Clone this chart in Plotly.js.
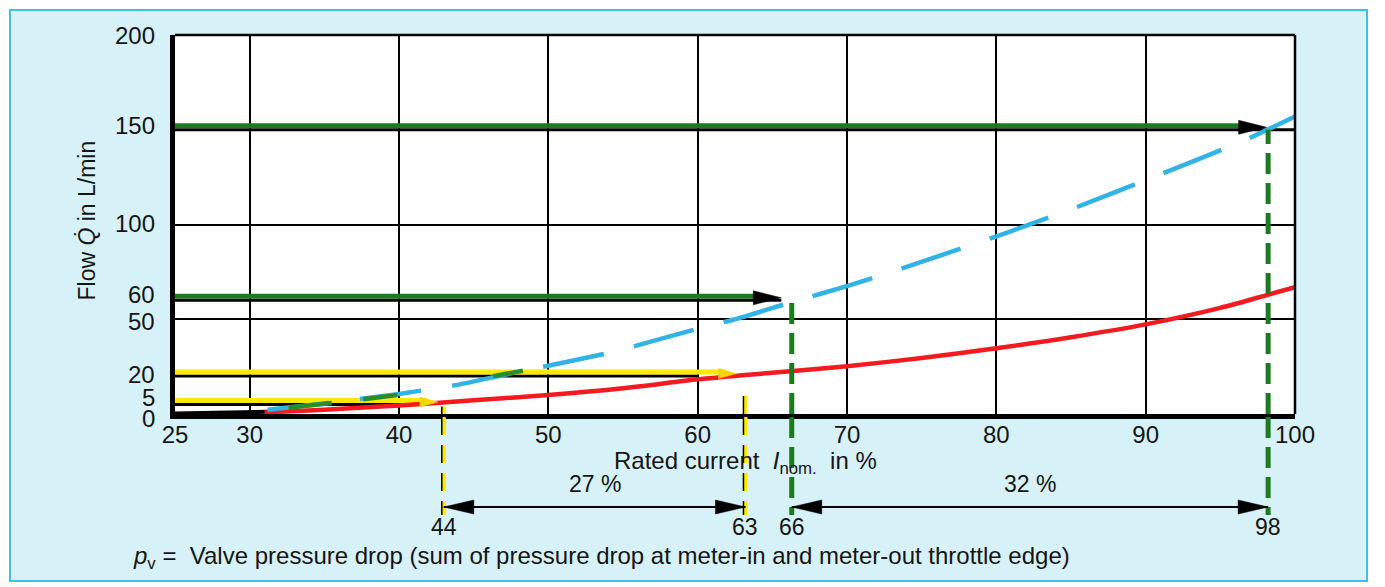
<!DOCTYPE html>
<html><head><meta charset="utf-8">
<script src="https://cdn.plot.ly/plotly-3.0.1.min.js"></script>
<style>html,body{margin:0;padding:0;background:#fff}</style>
</head><body><div id="chart" style="width:1385px;height:587px"></div>
<script>
// ---------- data ----------
const xTicks = [25, 30, 40, 50, 60, 70, 80, 90, 100];
const yTickLabels = [0, 5, 20, 50, 60, 100, 150, 200];
const yGrid = [50, 100, 150];

// red curve (solid)
const redX = [31, 35, 40, 45, 50, 55, 60, 63, 66, 70, 75, 80, 85, 90, 95, 98, 100];
const redY = [0.8, 2.3, 4.5, 7.2, 10, 13.6, 18.3, 20.5, 22.4, 25.2, 29.6, 34.7, 40.5, 47.3, 56, 62.5, 67];
// black start of the curve on the axis
const tailX = [25, 28.5, 32];
const tailY = [0.2, 0.6, 1.3];

// light blue dashed curve
const blueX = [31.2, 35, 40, 44, 47, 50, 54.5, 56.5, 60.5, 62.5, 66.5, 70, 73, 79, 81, 85, 90.5, 96.5, 100];
const blueY = [2.2, 5.6, 10.6, 15.5, 20.6, 25.5, 33, 37.4, 46, 50, 59.5, 67.5, 75, 91, 96.5, 108, 125, 144, 157];
// short green pieces laid over the blue dashes
const greenSegX = [32.6, 35.5, null, 37.6, 39.9, null, 46.3, 48.3];
const greenSegY = [3.3, 5.8, null, 7.8, 10.0, null, 20.0, 22.8];

// flow levels with horizontal arrows
const flowLevels = [5, 20, 60, 150];
const arrowTipX = [42.6, 62.6, 65.6, 98.1];
const blackEndX = [41.2, 60, 65.6, 100];
// vertical markers at the bottom
const markerX = [43.0, 63.2, 66.3, 98.2];
const markerLabels = ['44', '63', '66', '98'];
const dropStartY = [4, 14, 60, 150];
// spans between markers
const spanFrom = [0, 2];
const spanTo = [1, 3];
const spanLabels = ['27 %', '32 %'];

// ---------- styles ----------
const FONT = 'Liberation Sans, Arial, Helvetica, sans-serif';
const TXT = '#151515';
const YEL = '#ffe800', GRN = '#1c7a1f', BLUE = '#31b3e6', RED = '#f41a1f';
const levelColor = [YEL, YEL, GRN, GRN];
const headColor = ['#ffd400', '#ffd400', '#000', '#000'];
const headLen = [18, 18, 28, 28];
const headHalf = [5, 5, 7, 7];
const dropColor = [YEL, YEL, GRN, GRN];
const yLabelNudge = [-5, 6, 1, -3, 5, 0, 3, -1];

const shapes = [];
// outer frame with light cyan fill
shapes.push({type: 'rect', layer: 'below', xref: 'paper', yref: 'paper',
  xsizemode: 'pixel', ysizemode: 'pixel', xanchor: 0, yanchor: 0,
  x0: -165, x1: 1192, y0: -167, y1: 404,
  fillcolor: '#d7f1f9', line: {color: '#3dbfe8', width: 2}});
// white plot area
shapes.push({type: 'rect', layer: 'below', xref: 'paper', yref: 'paper',
  x0: 0, x1: 1, y0: 0, y1: 1, fillcolor: '#ffffff', line: {width: 0}});
// top and right border
shapes.push({type: 'line', xref: 'paper', yref: 'paper', x0: 0, x1: 1, y0: 1, y1: 1, line: {color: '#000', width: 2.5}});
shapes.push({type: 'line', xref: 'paper', yref: 'paper', x0: 1, x1: 1, y0: 0, y1: 1, line: {color: '#000', width: 2.5}});

flowLevels.forEach((lv, i) => {
  shapes.push({type: 'line', layer: 'between', xref: 'x', yref: 'y',
    x0: 25, x1: blackEndX[i], y0: lv, y1: lv, line: {color: '#000', width: 3}});
  shapes.push({type: 'line', layer: 'between', xref: 'x', yref: 'y',
    xsizemode: 'pixel', xanchor: arrowTipX[i], x0: -3000, x1: -headLen[i] * 0.6,
    ysizemode: 'pixel', yanchor: lv, y0: 4, y1: 4,
    line: {color: levelColor[i], width: 5}});
  const c = 2.5, L = headLen[i], h = headHalf[i];
  shapes.push({type: 'path', layer: 'above', xref: 'x', yref: 'y',
    xsizemode: 'pixel', ysizemode: 'pixel', xanchor: arrowTipX[i], yanchor: lv,
    path: `M0,${c} L${-L},${c + h} L${-L},${c - h} Z`,
    fillcolor: headColor[i], line: {color: headColor[i], width: 0.5}});
});

markerX.forEach((mx, i) => {
  const dash = i < 2 ? '18px,10px' : '21px,9px';
  const w = i < 2 ? 4 : 5;
  shapes.push({type: 'line', layer: 'above', xref: 'x', yref: 'y',
    x0: mx, x1: mx, y0: 0, y1: dropStartY[i], line: {color: dropColor[i], width: w, dash: dash}});
  shapes.push({type: 'line', layer: 'above', xref: 'x', yref: 'paper',
    x0: mx, x1: mx, ysizemode: 'pixel', yanchor: 0, y0: -3, y1: -101,
    line: {color: dropColor[i], width: w, dash: dash}});
  if (i < 2) {
    shapes.push({type: 'line', layer: 'above', xref: 'x', yref: 'y',
      xsizemode: 'pixel', xanchor: mx, x0: -2, x1: -2,
      y0: 0, y1: dropStartY[i], line: {color: '#000', width: 1.5, dash: dash}});
    shapes.push({type: 'line', layer: 'above', xref: 'x', yref: 'paper',
      xsizemode: 'pixel', xanchor: mx, x0: -2, x1: -2,
      ysizemode: 'pixel', yanchor: 0, y0: -3, y1: -101,
      line: {color: '#000', width: 1.5, dash: dash}});
  }
});

const annotations = [];
spanFrom.forEach((a, k) => {
  const b = spanTo[k];
  const xa = markerX[a], xb = markerX[b];
  shapes.push({type: 'line', layer: 'above', xref: 'x', yref: 'paper',
    x0: xa, x1: xb, ysizemode: 'pixel', yanchor: 0, y0: -93, y1: -93,
    line: {color: '#000', width: 2}});
  shapes.push({type: 'path', layer: 'above', xref: 'x', yref: 'paper',
    xsizemode: 'pixel', ysizemode: 'pixel', xanchor: xa, yanchor: 0,
    path: 'M0,-93 L30,-86 L30,-100 Z', fillcolor: '#000', line: {color: '#000', width: 0.5}});
  shapes.push({type: 'path', layer: 'above', xref: 'x', yref: 'paper',
    xsizemode: 'pixel', ysizemode: 'pixel', xanchor: xb, yanchor: 0,
    path: 'M0,-93 L-30,-86 L-30,-100 Z', fillcolor: '#000', line: {color: '#000', width: 0.5}});
  annotations.push({xref: 'x', x: (xa + xb) / 2, yref: 'paper', y: 0, yshift: -70,
    text: spanLabels[k], showarrow: false, xanchor: 'center', yanchor: 'middle',
    font: {family: FONT, size: 23, color: TXT}});
});

markerX.forEach((mx, i) => {
  annotations.push({xref: 'x', x: mx, yref: 'paper', y: 0, yshift: -113,
    text: markerLabels[i], showarrow: false, xanchor: 'center', yanchor: 'middle',
    font: {family: FONT, size: 23, color: TXT}});
});

yTickLabels.forEach((v, i) => {
  annotations.push({xref: 'paper', x: 0, xshift: -18, xanchor: 'right',
    yref: 'y', y: v, yshift: yLabelNudge[i] + 1, yanchor: 'middle',
    text: String(v), showarrow: false, font: {family: FONT, size: 24, color: TXT}});
});

// axis titles and footnote
annotations.push({xref: 'paper', x: 0, xshift: -89, yref: 'paper', y: 0.5, yshift: 4,
  text: 'Flow <i>Q\u0307</i> in L/min', textangle: -90, showarrow: false,
  xanchor: 'center', yanchor: 'middle', font: {family: FONT, size: 23, color: TXT}});
annotations.push({xref: 'paper', x: 0, xshift: 570, yref: 'paper', y: 0, yshift: -48,
  text: 'Rated current\u00a0 <i>I</i><sub>nom.</sub>\u00a0 in %', showarrow: false,
  xanchor: 'center', yanchor: 'middle', font: {family: FONT, size: 24, color: TXT}});
annotations.push({xref: 'paper', x: 0, xshift: -44, yref: 'paper', y: 0, yshift: -143,
  text: '<i>p</i><sub>v</sub>\u00a0=\u00a0 Valve pressure drop (sum of pressure drop at meter-in and meter-out throttle edge)',
  showarrow: false, xanchor: 'left', yanchor: 'middle', font: {family: FONT, size: 24, color: TXT}});

const traces = [
  {x: tailX, y: tailY, mode: 'lines', line: {color: '#000', width: 4}},
  {x: redX, y: redY, mode: 'lines', line: {color: RED, width: 4.5, shape: 'spline', smoothing: 0.8}},
  {x: blueX, y: blueY, mode: 'lines', line: {color: BLUE, width: 4.5, dash: '62px,31px', shape: 'spline', smoothing: 0.6}},
  {x: greenSegX, y: greenSegY, mode: 'lines', connectgaps: false, line: {color: '#2b8c2b', width: 4.5}}
];

const layout = {
  width: 1385, height: 587,
  margin: {l: 175, r: 90, t: 35, b: 173},
  paper_bgcolor: '#ffffff', plot_bgcolor: '#ffffff',
  showlegend: false, hovermode: false,
  font: {family: FONT, color: TXT},
  xaxis: {range: [25, 100], tickvals: xTicks, ticktext: xTicks.map(String),
    showgrid: true, gridcolor: '#000', gridwidth: 2, zeroline: false,
    showline: true, linecolor: '#000', linewidth: 5, ticks: '', ticklabelstandoff: -5,
    tickfont: {family: FONT, size: 24, color: TXT}, fixedrange: true},
  yaxis: {range: [0, 200], tickvals: yGrid, showticklabels: false,
    showgrid: true, gridcolor: '#000', gridwidth: 2, zeroline: false,
    showline: true, linecolor: '#000', linewidth: 5, ticks: '', fixedrange: true},
  shapes: shapes,
  annotations: annotations
};

Plotly.newPlot('chart', traces, layout, {displayModeBar: false, staticPlot: true});
</script></body></html>
